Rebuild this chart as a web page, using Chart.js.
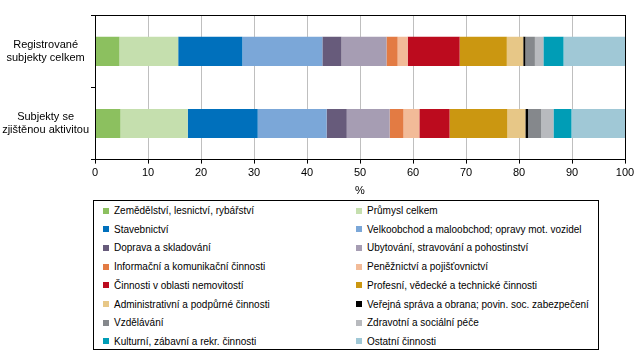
<!DOCTYPE html>
<html lang="cs">
<head>
<meta charset="UTF-8" />
<title>Struktura subjektů podle odvětví</title>
<script src="https://cdn.jsdelivr.net/npm/chart.js"></script>
<style>
  body { margin: 0; background: #fff; font-family: "Liberation Sans", Arial, sans-serif; }
  .wrap { position: relative; width: 643px; height: 354px; }
  .graf { position: absolute; left: 0; top: 0; width: 643px; height: 198px; }
  #legenda {
    position: absolute; left: 93px; top: 200px; width: 506px; height: 150px;
    border: 1px solid #000; box-sizing: border-box;
    font-size: 10px; color: #000;
  }
  .polozka { position: absolute; white-space: nowrap; line-height: 13px; }
  .ctverec { position: absolute; left: -11px; top: 3.5px; width: 6px; height: 6px; }
</style>
</head>
<body>
<div class="wrap">
  <div class="graf"><canvas id="graf"></canvas></div>
  <div id="legenda"></div>
</div>
<script>
  const kategorie = [['Registrované', 'subjekty celkem'], ['Subjekty se', 'zjištěnou aktivitou']];

  const odvetvi = [
    'Zemědělství, lesnictví, rybářství',
    'Průmysl celkem',
    'Stavebnictví',
    'Velkoobchod a maloobchod; opravy mot. vozidel',
    'Doprava a skladování',
    'Ubytování, stravování a pohostinství',
    'Informační a komunikační činnosti',
    'Peněžnictví a pojišťovnictví',
    'Činnosti v oblasti nemovitostí',
    'Profesní, vědecké a technické činnosti',
    'Administrativní a podpůrné činnosti',
    'Veřejná správa a obrana; povin. soc. zabezpečení',
    'Vzdělávání',
    'Zdravotní a sociální péče',
    'Kulturní, zábavní a rekr. činnosti',
    'Ostatní činnosti'
  ];

  // podíly v % (registrované subjekty celkem)
  const registrovane = [4.6, 11.1, 12.1, 15.1, 3.6, 8.5, 2.1, 1.9, 9.8, 8.9, 3.1, 0.4, 1.8, 1.6, 3.8, 11.6];
  // podíly v % (subjekty se zjištěnou aktivitou)
  const aktivni = [4.8, 12.7, 13.2, 13.0, 3.8, 8.1, 2.6, 3.0, 5.7, 10.9, 3.4, 0.5, 2.5, 2.3, 3.4, 10.1];

  const barvy = [
    '#8cc05f', '#c5dfae', '#0070bc', '#7ba7d8', '#675b7b', '#a69db3', '#e37b43', '#f2bb98',
    '#bc0b1e', '#cb9711', '#e7c787', '#000000', '#85888c', '#b8babe', '#009db6', '#a0c8d6'
  ];

  const osaX = [0, 100];

  const datasety = odvetvi.map((nazev, i) => ({
    label: nazev,
    data: [registrovane[i], aktivni[i]],
    backgroundColor: barvy[i],
    borderWidth: 0,
    barPercentage: 0.405,
    categoryPercentage: 1
  }));

  // ramecek kolem plochy grafu
  const ramecek = {
    id: 'ramecek',
    afterDatasetsDraw(chart) {
      const a = chart.chartArea;
      const c = chart.ctx;
      c.save();
      c.strokeStyle = '#000';
      c.lineWidth = 1;
      c.strokeRect(Math.round(a.left) + 0.5, Math.round(a.top) + 0.5,
        Math.round(a.right - a.left), Math.round(a.bottom - a.top));
      c.restore();
    }
  };

  Chart.defaults.font.family = '"Liberation Sans", Arial, sans-serif';
  Chart.defaults.font.size = 11;
  Chart.defaults.color = '#000';

  new Chart(document.getElementById('graf'), {
    type: 'bar',
    data: { labels: kategorie, datasets: datasety },
    options: {
      indexAxis: 'y',
      responsive: true,
      maintainAspectRatio: false,
      animation: false,
      layout: { padding: { top: 5, right: 18, left: 0, bottom: 0 } },
      plugins: {
        legend: { display: false },
        tooltip: { enabled: false }
      },
      scales: {
        x: {
          stacked: true,
          min: osaX[0],
          max: osaX[1],
          ticks: { stepSize: 10, padding: 3 },
          grid: { color: '#bfbfbf', tickColor: '#000', tickLength: 4 },
          border: { color: '#000' },
          title: { display: true, text: '%', padding: { top: 2, bottom: 0 } }
        },
        y: {
          stacked: true,
          afterFit(axis) { axis.width = 95; },
          ticks: { crossAlign: 'center', padding: 2 },
          grid: { drawOnChartArea: false, tickLength: 4, color: '#000' },
          border: { color: '#000' }
        }
      }
    },
    plugins: [ramecek]
  });

  // legenda ve dvou sloupcich
  const legenda = document.getElementById('legenda');
  odvetvi.forEach((nazev, i) => {
    const el = document.createElement('div');
    el.className = 'polozka';
    el.style.left = (i % 2 === 0 ? 20 : 273) + 'px';
    el.style.top = (3 + Math.floor(i / 2) * 18.7) + 'px';
    el.innerHTML = '<span class="ctverec" style="background:' + barvy[i] + '"></span>' + nazev;
    legenda.appendChild(el);
  });
</script>
</body>
</html>
